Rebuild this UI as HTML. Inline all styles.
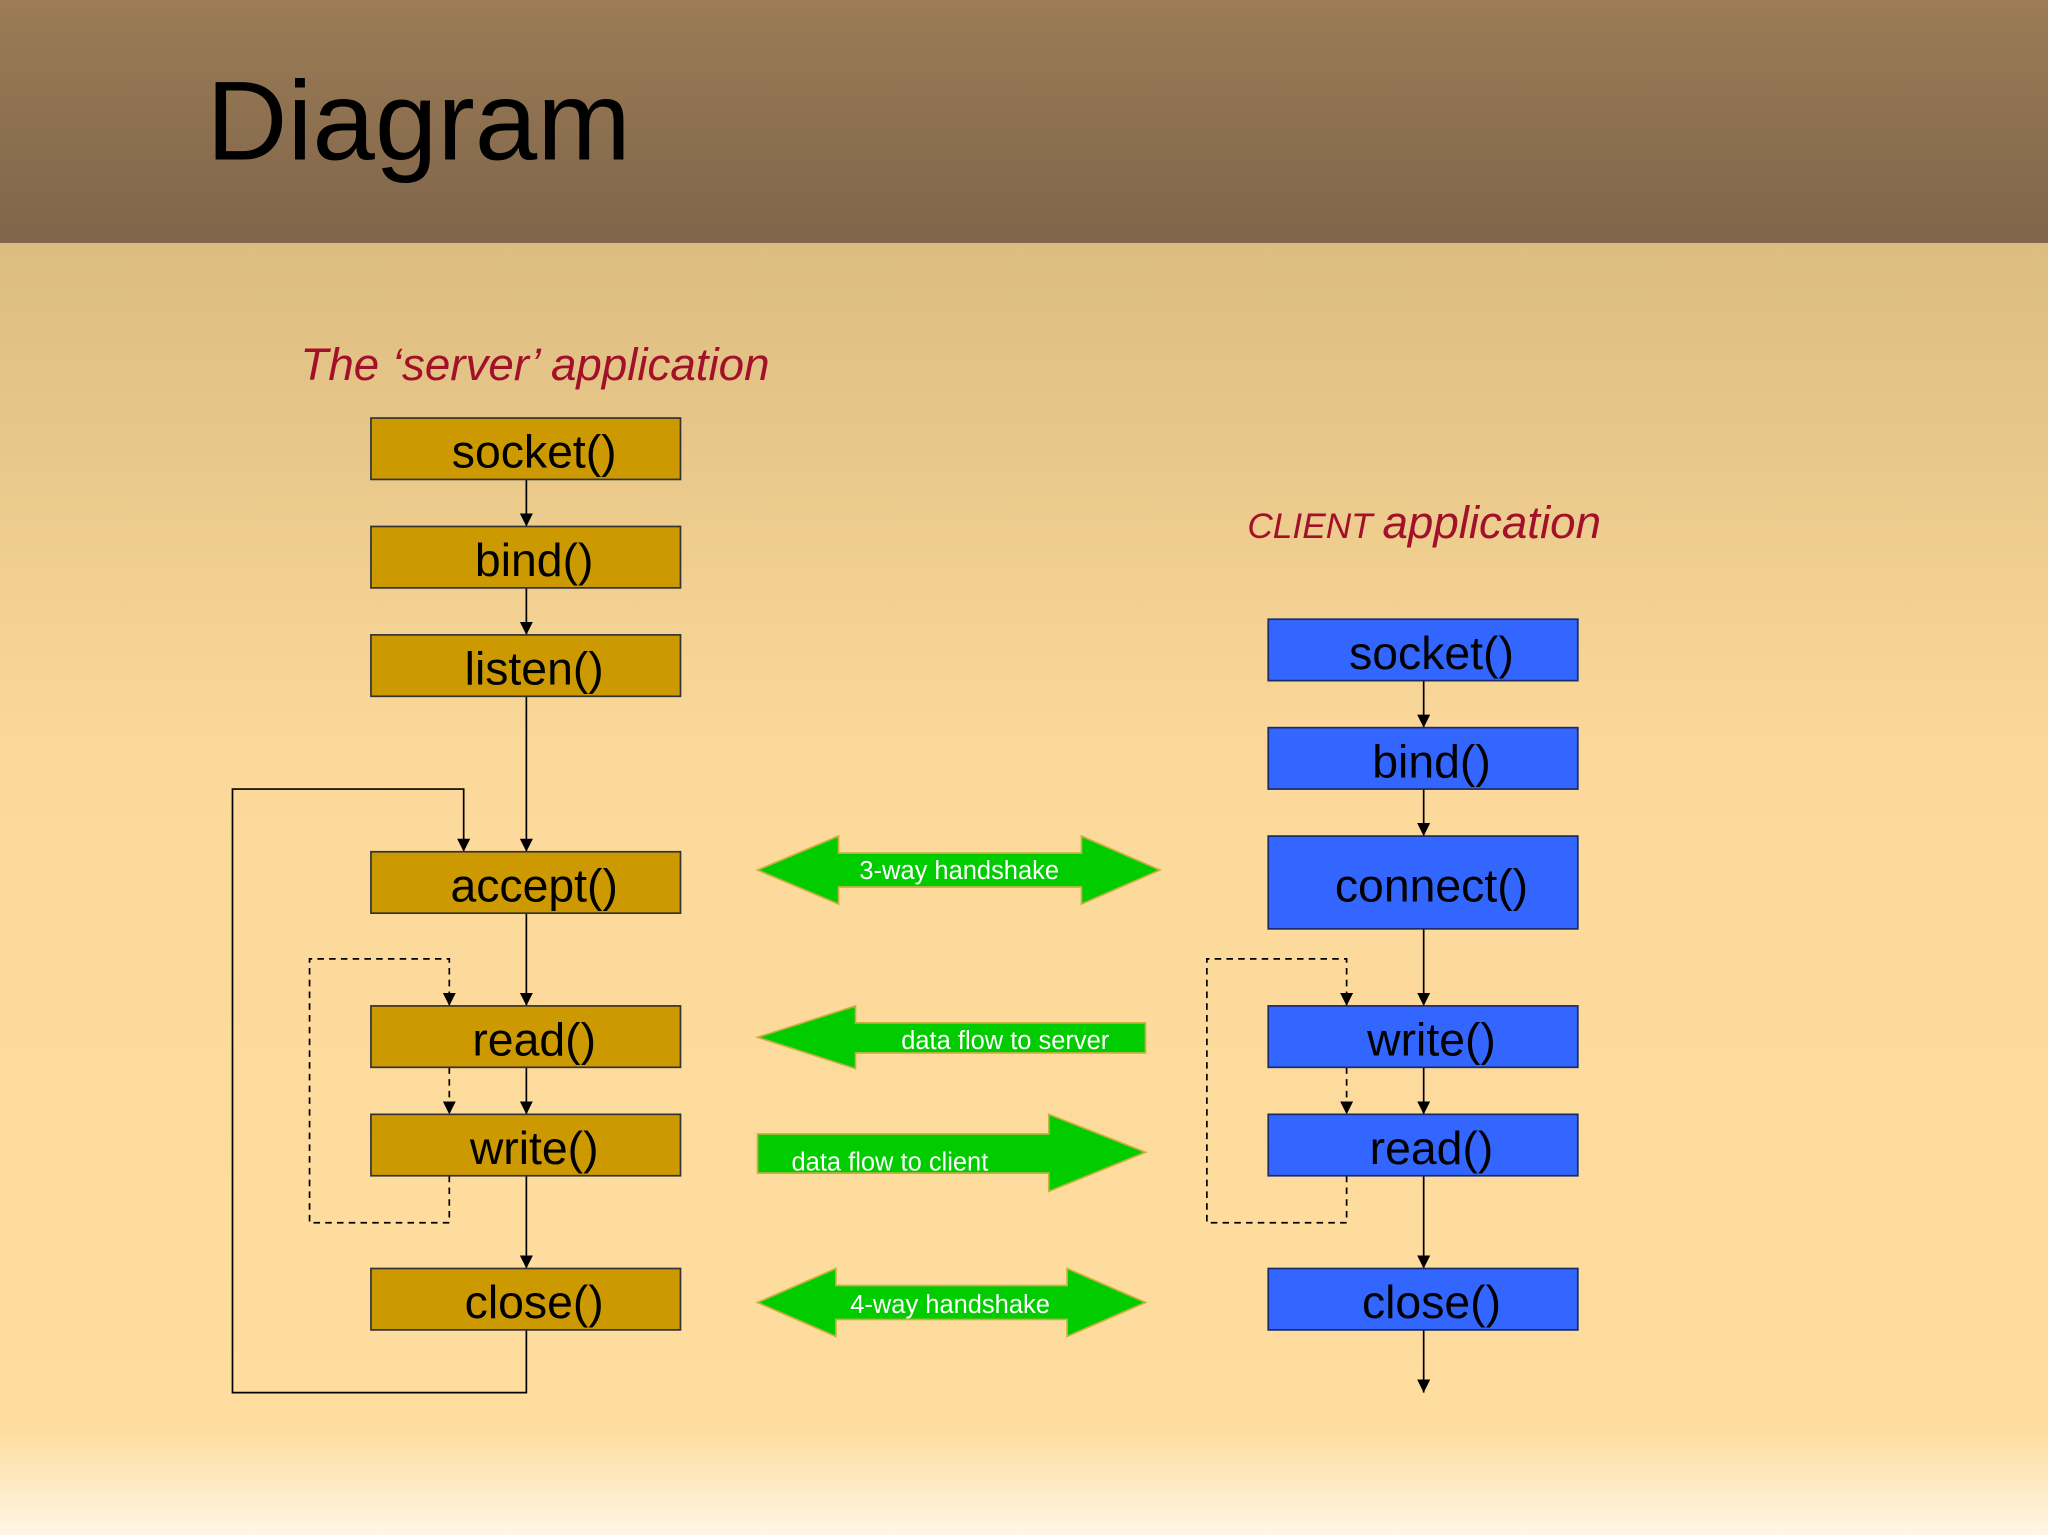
<!DOCTYPE html>
<html><head><meta charset="utf-8"><style>
html,body{margin:0;padding:0;width:2048px;height:1535px;overflow:hidden}
svg{display:block}
text{font-family:"Liberation Sans",sans-serif}
</style></head><body>
<svg width="2048" height="1535" viewBox="0 0 1568 1175" preserveAspectRatio="none" xmlns="http://www.w3.org/2000/svg">
<defs>
<linearGradient id="hd" x1="0" y1="0" x2="0" y2="1"><stop offset="0" stop-color="#9b7c56"/><stop offset="1" stop-color="#80654a"/></linearGradient>
<linearGradient id="bg" x1="0" y1="0" x2="0" y2="1">
<stop offset="0" stop-color="#dbbd7f"/><stop offset="0.4" stop-color="#fcd99b"/><stop offset="0.92" stop-color="#fedd9f"/><stop offset="1" stop-color="#fff6e6"/></linearGradient>
<marker id="a" viewBox="0 0 10 10" markerWidth="10" markerHeight="10" refX="10" refY="5" orient="auto" markerUnits="userSpaceOnUse"><path d="M0,0 L10,5 L0,10 z" fill="#000"/></marker>
</defs>
<rect x="0" y="186" width="1568" height="989" fill="url(#bg)"/>
<rect x="0" y="0" width="1568" height="186" fill="url(#hd)"/>
<text x="158" y="122" font-size="86" fill="#000">Diagram</text>
<text x="230" y="291" font-size="35" font-style="italic" fill="#a3102a">The ‘server’ application</text>
<text x="955" y="412" fill="#a3102a" font-style="italic"><tspan font-size="27">CLIENT </tspan><tspan font-size="35">application</tspan></text>

<g stroke="#000" stroke-width="1.3" fill="none">
<line x1="403" y1="367" x2="403" y2="403" marker-end="url(#a)"/>
<line x1="403" y1="450" x2="403" y2="486" marker-end="url(#a)"/>
<line x1="403" y1="533" x2="403" y2="652" marker-end="url(#a)"/>
<line x1="403" y1="699" x2="403" y2="770" marker-end="url(#a)"/>
<line x1="403" y1="817" x2="403" y2="853" marker-end="url(#a)"/>
<line x1="403" y1="900" x2="403" y2="971" marker-end="url(#a)"/>
<polyline points="403,1018 403,1066 178,1066 178,604 355,604 355,652" marker-end="url(#a)"/>
<g stroke-dasharray="5,4">
<polyline points="344,900 344,936 237,936 237,734 344,734 344,770" marker-end="url(#a)"/>
<line x1="344" y1="817" x2="344" y2="853" marker-end="url(#a)"/>
<polyline points="1031,900 1031,936 924,936 924,734 1031,734 1031,770" marker-end="url(#a)"/>
<line x1="1031" y1="817" x2="1031" y2="853" marker-end="url(#a)"/>
</g>
<line x1="1090" y1="521" x2="1090" y2="557" marker-end="url(#a)"/>
<line x1="1090" y1="604" x2="1090" y2="640" marker-end="url(#a)"/>
<line x1="1090" y1="711" x2="1090" y2="770" marker-end="url(#a)"/>
<line x1="1090" y1="817" x2="1090" y2="853" marker-end="url(#a)"/>
<line x1="1090" y1="900" x2="1090" y2="971" marker-end="url(#a)"/>
<line x1="1090" y1="1018" x2="1090" y2="1066" marker-end="url(#a)"/>
</g>

<g stroke="#333" stroke-width="1.3" fill="#cc9900">
<rect x="284" y="320" width="237" height="47"/>
<rect x="284" y="403" width="237" height="47"/>
<rect x="284" y="486" width="237" height="47"/>
<rect x="284" y="652" width="237" height="47"/>
<rect x="284" y="770" width="237" height="47"/>
<rect x="284" y="853" width="237" height="47"/>
<rect x="284" y="971" width="237" height="47"/>
</g>
<g stroke="#1a2a66" stroke-width="1.3" fill="#3366ff">
<rect x="971" y="474" width="237" height="47"/>
<rect x="971" y="557" width="237" height="47"/>
<rect x="971" y="640" width="237" height="71"/>
<rect x="971" y="770" width="237" height="47"/>
<rect x="971" y="853" width="237" height="47"/>
<rect x="971" y="971" width="237" height="47"/>
</g>
<g font-size="35.5" fill="#000" text-anchor="middle">
<text x="409" y="358">socket()</text>
<text x="409" y="441">bind()</text>
<text x="409" y="524">listen()</text>
<text x="409" y="690">accept()</text>
<text x="409" y="808">read()</text>
<text x="409" y="891">write()</text>
<text x="409" y="1009">close()</text>
<text x="1096" y="512">socket()</text>
<text x="1096" y="595">bind()</text>
<text x="1096" y="690">connect()</text>
<text x="1096" y="808">write()</text>
<text x="1096" y="891">read()</text>
<text x="1096" y="1009">close()</text>
</g>

<g fill="#00cc00" stroke="#c8b040" stroke-width="1.3">
<polygon points="580,666 642,640 642,653 828,653 828,640 888,666 828,692 828,679 642,679 642,692"/>
<polygon points="580,794 655,770 655,783 877,783 877,806 655,806 655,818"/>
<polygon points="580,868 803,868 803,853 877,882 803,912 803,898 580,898"/>
<polygon points="580,997 640,971 640,984 817,984 817,971 877,997 817,1023 817,1010 640,1010 640,1023"/>
</g>
<g font-size="19.5" fill="#fff">
<text x="658" y="673">3-way handshake</text>
<text x="690" y="803">data flow to server</text>
<text x="606" y="896">data flow to client</text>
<text x="651" y="1005">4-way handshake</text>
</g>
</svg>
</body></html>
